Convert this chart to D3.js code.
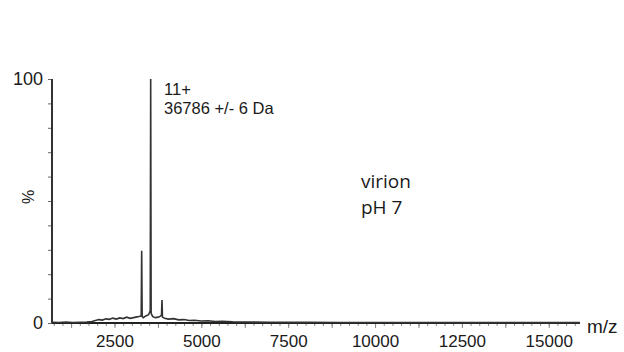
<!DOCTYPE html>
<html>
<head>
<meta charset="utf-8">
<script src="https://d3js.org/d3.v7.min.js"></script>
<style>
  body { margin: 0; background: #fff; }
  text { font-family: "Liberation Sans", Arial, sans-serif; fill: #1a1a1a; }
</style>
</head>
<body>
<svg id="chart" width="624" height="352"></svg>
<script>
// spectrum: m/z and relative intensity (%)
const mz = [700, 900, 1100, 1300, 1500, 1700, 1850, 1950, 2050, 2150, 2250, 2350, 2450, 2550, 2650, 2750, 2850,
  2950, 3050, 3150, 3230, 3268, 3282, 3296, 3330, 3400, 3480, 3528, 3541, 3554, 3600, 3680, 3760, 3820, 3852, 3866,
  3880, 3940, 4050, 4200, 4350, 4500, 4650, 4800, 5000, 5200, 5400, 5600, 5900, 6300, 7000, 8000, 9000, 10000,
  11000, 12000, 13000, 14000, 15000, 15900];
const intensity = [0.3, 0.2, 0.4, 0.2, 0.3, 0.4, 0.6, 1.0, 1.4, 1.2, 1.7, 1.5, 2.0, 1.6, 2.1, 1.8, 2.4,
  1.9, 2.2, 2.5, 2.8, 3.0, 29.6, 2.6, 2.2, 2.9, 3.4, 5.0, 100, 4.0, 2.6, 2.2, 2.4, 2.8, 3.2, 9.4,
  2.4, 1.9, 1.6, 1.8, 1.3, 1.4, 1.0, 1.1, 0.8, 0.9, 0.6, 0.7, 0.5, 0.4, 0.3, 0.25, 0.2, 0.2,
  0.2, 0.15, 0.15, 0.15, 0.15, 0.15];
const xTickLabels = [2500, 5000, 7500, 10000, 12500, 15000];
const yTickLabels = [0, 100];

const data = mz.map((m, i) => ({ mz: m, pct: intensity[i] }));

const svg = d3.select("#chart");
const margin = { top: 79, right: 44, bottom: 29, left: 52 };
const width = +svg.attr("width") - margin.left - margin.right;
const height = +svg.attr("height") - margin.top - margin.bottom;
const g = svg.append("g").attr("transform", `translate(${margin.left},${margin.top})`);

const x = d3.scaleLinear().domain([700, 15900]).range([0, width]);
const y = d3.scaleLinear().domain([0, 100]).range([height, 0]);

// x axis: small ticks every 250, longer every 1250, labels every 2500
g.append("g")
  .attr("transform", `translate(0,${height})`)
  .call(d3.axisBottom(x).tickValues(d3.range(750, 15900, 250)).tickSize(3).tickFormat(""))
  .call(a => a.select(".domain").remove())
  .selectAll("line").attr("stroke", "#888");
g.append("g")
  .attr("transform", `translate(0,${height})`)
  .call(d3.axisBottom(x).tickValues(d3.range(1250, 15900, 1250)).tickSize(5).tickFormat(""))
  .call(a => a.select(".domain").remove())
  .selectAll("line").attr("stroke", "#888");
g.append("g")
  .attr("transform", `translate(0,${height})`)
  .call(d3.axisBottom(x).tickValues(xTickLabels).tickSize(0).tickPadding(12).tickFormat(d3.format("d")))
  .call(a => a.select(".domain").remove())
  .selectAll("text").style("font-size", "17px").attr("fill", "#1a1a1a");
g.append("line")
  .attr("x1", 0).attr("x2", width)
  .attr("y1", height).attr("y2", height)
  .attr("stroke", "#222").attr("stroke-width", 2);

// y axis
g.append("g")
  .call(d3.axisLeft(y).tickValues(d3.range(0, 101, 10)).tickSize(4).tickFormat(""))
  .call(a => a.select(".domain").remove())
  .selectAll("line").attr("stroke", "#666");
g.append("g")
  .call(d3.axisLeft(y).tickValues(yTickLabels).tickSize(0).tickPadding(9).tickFormat(d3.format("d")))
  .call(a => a.select(".domain").remove())
  .selectAll("text").style("font-size", "18px").attr("fill", "#1a1a1a");
g.append("line")
  .attr("x1", 0).attr("x2", 0)
  .attr("y1", 0).attr("y2", height)
  .attr("stroke", "#333").attr("stroke-width", 2);

// spectrum
const line = d3.line().x(d => x(d.mz)).y(d => y(d.pct));
g.append("path")
  .datum(data)
  .attr("d", line)
  .attr("fill", "none")
  .attr("stroke", "#333")
  .attr("stroke-width", 1.6);

// labels
svg.append("text").attr("transform", "translate(34,197) rotate(-90)")
  .attr("text-anchor", "middle").style("font-size", "16px").text("%");
svg.append("text").attr("x", 587).attr("y", 333).style("font-size", "19px").text("m/z");
svg.append("text").attr("x", 164).attr("y", 95).style("font-size", "16.5px").text("11+");
svg.append("text").attr("x", 164).attr("y", 114).style("font-size", "16.5px").text("36786 +/- 6 Da");
svg.append("text").attr("x", 361).attr("y", 188).style("font-family", "'Open Sans', sans-serif")
  .style("font-size", "19px").text("virion");
svg.append("text").attr("x", 361).attr("y", 214).style("font-family", "'Open Sans', sans-serif")
  .style("font-size", "19px").text("pH 7");
</script>
</body>
</html>
